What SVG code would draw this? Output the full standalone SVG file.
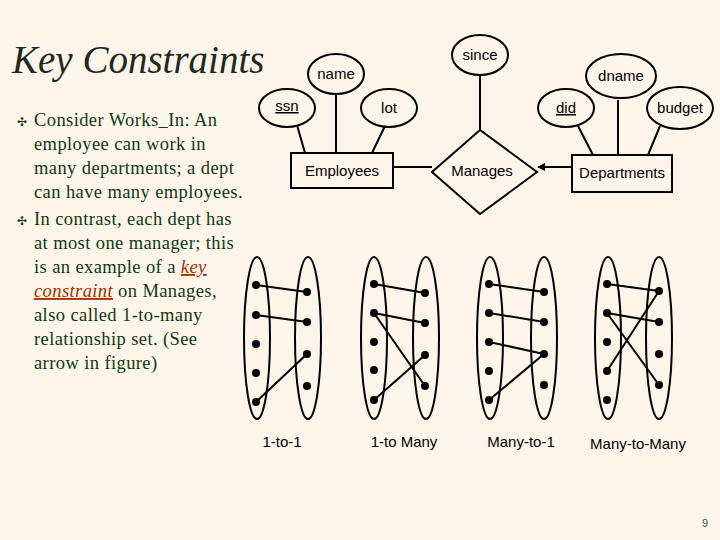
<svg xmlns="http://www.w3.org/2000/svg" width="720" height="540" viewBox="0 0 720 540">
<defs>
<style>
.t{font-family:"Liberation Serif",serif;font-size:18.5px;letter-spacing:0.4px;fill:#0e3a12}
.s{font-family:"Liberation Sans",Arial,sans-serif;font-size:15px;fill:#000;text-anchor:middle}
.sh{fill:none;stroke:#000;stroke-width:2}
.ln{stroke:#000;stroke-width:2;fill:none}
.d{fill:#000}
</style>
<marker id="ah" markerWidth="8" markerHeight="8" refX="7" refY="4" orient="auto" markerUnits="userSpaceOnUse"><path d="M0,0 L8,4 L0,8 z" fill="#000"/></marker>
</defs>
<rect width="720" height="540" fill="#fdf5ea"/>
<text x="12" y="73" style="font-family:'Liberation Serif',serif;font-style:italic;font-size:39px;fill:#1e2a1e">Key Constraints</text>
<g class="t">
<text x="17" y="126" style="font-size:12px">✣</text>
<text x="34" y="126">Consider Works_In:  An</text>
<text x="34" y="150">employee can work in</text>
<text x="34" y="174">many departments; a dept</text>
<text x="34" y="198">can have many employees.</text>
<text x="17" y="225" style="font-size:12px">✣</text>
<text x="34" y="225">In contrast, each dept has</text>
<text x="34" y="249">at most one manager; this</text>
<text x="34" y="273">is  an example of a <tspan style="font-style:italic;fill:#993300;text-decoration:underline">key</tspan></text>
<text x="34" y="297"><tspan style="font-style:italic;fill:#993300;text-decoration:underline">constraint</tspan> on Manages,</text>
<text x="34" y="321">also called 1-to-many</text>
<text x="34" y="345">relationship set. (See</text>
<text x="34" y="369">arrow in figure)</text>
</g>
<g id="connectors" class="ln">
<line x1="297" y1="125" x2="305" y2="153"/>
<line x1="336" y1="94" x2="336" y2="153"/>
<line x1="385" y1="126" x2="372" y2="153"/>
<line x1="480" y1="75" x2="480" y2="130"/>
<line x1="393" y1="167" x2="432" y2="167"/>
<line x1="572" y1="167" x2="538" y2="167" marker-end="url(#ah)"/>
<line x1="578" y1="126" x2="593" y2="155"/>
<line x1="618" y1="100" x2="618" y2="155"/>
<line x1="660" y1="126" x2="648" y2="155"/>
</g>
<g id="since"><ellipse class="sh" cx="480" cy="55" rx="28" ry="20"/><text class="s" x="480" y="60">since</text></g>
<g id="name"><ellipse class="sh" cx="336" cy="74" rx="28" ry="20"/><text class="s" x="336" y="79">name</text></g>
<g id="ssn"><ellipse class="sh" cx="287" cy="108" rx="28" ry="19"/><text class="s" x="287" y="111" text-decoration="underline">ssn</text></g>
<g id="lot"><ellipse class="sh" cx="389" cy="108" rx="28" ry="19"/><text class="s" x="389" y="113">lot</text></g>
<g id="employees"><rect class="sh" x="291" y="153" width="102" height="35"/><text class="s" x="342" y="176">Employees</text></g>
<g id="manages"><polygon class="sh" points="480,130 537,172 480,214 432,172"/><text class="s" x="482" y="176">Manages</text></g>
<g id="departments"><rect class="sh" x="572" y="155" width="100" height="37"/><text class="s" x="622" y="178">Departments</text></g>
<g id="did"><ellipse class="sh" cx="566" cy="108" rx="28" ry="19"/><text class="s" x="566" y="113" text-decoration="underline">did</text></g>
<g id="dname"><ellipse class="sh" cx="621" cy="76" rx="35" ry="22"/><text class="s" x="621" y="81">dname</text></g>
<g id="budget"><ellipse class="sh" cx="680" cy="108" rx="33" ry="21"/><text class="s" x="680" y="113">budget</text></g>

<g id="g1">
<ellipse class="sh" cx="257" cy="338" rx="13" ry="81"/><ellipse class="sh" cx="308" cy="338" rx="13" ry="81"/>
<g class="ln"><line x1="256" y1="285" x2="307" y2="292"/><line x1="256" y1="315" x2="307" y2="322"/><line x1="256" y1="402" x2="307" y2="354"/></g>
<g class="d"><circle cx="256" cy="285" r="4"/><circle cx="256" cy="315" r="4"/><circle cx="256" cy="344" r="4"/><circle cx="256" cy="373" r="4"/><circle cx="256" cy="402" r="4"/><circle cx="307" cy="292" r="4"/><circle cx="307" cy="322" r="4"/><circle cx="307" cy="354" r="4"/><circle cx="307" cy="386" r="4"/></g>
<text class="s" x="282" y="447">1-to-1</text>
</g>
<g id="g2">
<ellipse class="sh" cx="374" cy="338" rx="13" ry="81"/><ellipse class="sh" cx="426" cy="338" rx="13" ry="81"/>
<g class="ln"><line x1="374" y1="284" x2="425" y2="293"/><line x1="374" y1="313" x2="425" y2="323"/><line x1="374" y1="313" x2="425" y2="386"/><line x1="374" y1="400" x2="425" y2="355"/></g>
<g class="d"><circle cx="374" cy="284" r="4"/><circle cx="374" cy="313" r="4"/><circle cx="374" cy="342" r="4"/><circle cx="374" cy="370" r="4"/><circle cx="374" cy="400" r="4"/><circle cx="425" cy="293" r="4"/><circle cx="425" cy="323" r="4"/><circle cx="425" cy="355" r="4"/><circle cx="425" cy="386" r="4"/></g>
<text class="s" x="404" y="447">1-to Many</text>
</g>
<g id="g3">
<ellipse class="sh" cx="490" cy="338" rx="13" ry="81"/><ellipse class="sh" cx="544" cy="338" rx="13" ry="81"/>
<g class="ln"><line x1="489" y1="284" x2="544" y2="292"/><line x1="489" y1="313" x2="544" y2="322"/><line x1="489" y1="342" x2="544" y2="354"/><line x1="489" y1="400" x2="544" y2="354"/></g>
<g class="d"><circle cx="489" cy="284" r="4"/><circle cx="489" cy="313" r="4"/><circle cx="489" cy="342" r="4"/><circle cx="489" cy="371" r="4"/><circle cx="489" cy="400" r="4"/><circle cx="544" cy="292" r="4"/><circle cx="544" cy="322" r="4"/><circle cx="544" cy="354" r="4"/><circle cx="544" cy="385" r="4"/></g>
<text class="s" x="521" y="447">Many-to-1</text>
</g>
<g id="g4">
<ellipse class="sh" cx="608" cy="338" rx="13" ry="81"/><ellipse class="sh" cx="659" cy="338" rx="13" ry="81"/>
<g class="ln"><line x1="607" y1="284" x2="659" y2="291"/><line x1="607" y1="313" x2="659" y2="322"/><line x1="607" y1="313" x2="659" y2="385"/><line x1="607" y1="371" x2="659" y2="291"/></g>
<g class="d"><circle cx="607" cy="284" r="4"/><circle cx="607" cy="313" r="4"/><circle cx="607" cy="342" r="4"/><circle cx="607" cy="371" r="4"/><circle cx="607" cy="400" r="4"/><circle cx="659" cy="291" r="4"/><circle cx="659" cy="322" r="4"/><circle cx="659" cy="354" r="4"/><circle cx="659" cy="385" r="4"/></g>
<text class="s" x="638" y="449">Many-to-Many</text>
</g>
<text x="702" y="527" style="font-family:'Liberation Sans',sans-serif;font-size:11px;fill:#2a6a2a">9</text>
</svg>
